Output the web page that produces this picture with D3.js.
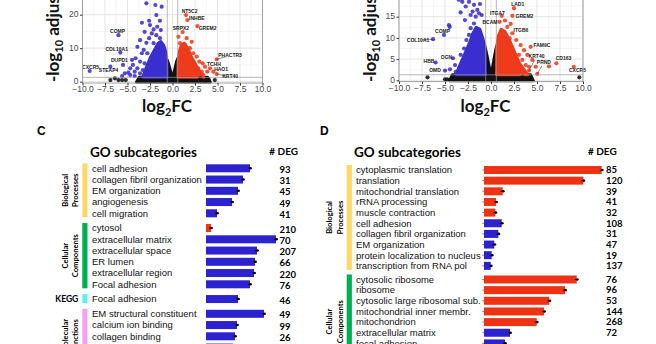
<!DOCTYPE html>
<html>
<head>
<meta charset="utf-8">
<script src="https://cdn.jsdelivr.net/npm/d3@7"></script>
<style>
  body { margin: 0; background: #fff; }
  svg { display: block; }
</style>
</head>
<body>
<svg id="fig" width="656" height="344"></svg>
<script>
// ---------------- Volcano plots: shared ticks and cut-offs ----------------
const log2fcTicks = [-10, -7.5, -5, -2.5, 0, 2.5, 5, 7.5, 10];
const aYTicks = [0, 10, 20];
const bYTicks = [0, 5, 10, 15];
const fcCut = 0.58;     // |log2FC| threshold
const padjCut = 1.3;    // -log10(0.05)

// ---- Volcano A (left): individual genes [log2FC, -log10 padj] ----
const aDown = [[-2.9,23.4],[-1.9,22.9],[-1.2,22.4],[-1.8,19.9],[-3.4,17.6],[-2.6,18.2],[-2.5,16.9],[-1.4,18.2],
  [-1.7,16.4],[-2.1,15.6],[-1.3,15.4],[-3.1,14.9],[-2.3,14.4],[-1.8,13.9],[-2.6,13.0],[-1.4,13.0],[-3.6,12.4],
  [-2.9,11.6],[-2.1,11.5],[-3.9,10.4],[-3.2,9.5],[-3.4,8.5],[-2.8,8.5],[-4.1,7.0],[-3.6,6.0],[-3.1,5.5],[-4.4,5.0],
  [-3.9,4.0],[-3.3,3.5],[-4.2,3.0],[-3.6,2.5],[-4.7,2.0],[-4.2,1.7],[-6.0,13.9],[-5.8,8.7],[-4.5,6.5],[-5.5,5.0],
  [-9.2,3.2],[-6.9,4.5],[-4.7,4.0],[-4.9,2.7],[-5.3,2.5],[-5.6,1.7]];
const aUp = [[1.5,19.9],[1.65,18.4],[1.13,14.8],[2.76,16.6],[0.83,11.5],[1.39,11.0],[1.02,9.5],[1.94,10.0],
  [2.31,8.5],[1.76,8.0],[2.69,7.5],[2.98,6.0],[4.91,6.7],[3.35,5.5],[3.61,4.5],[4.17,4.0],[4.54,3.0],[3.87,3.0],
  [4.91,2.3],[3.24,3.0],[3.43,2.0],[2.87,4.0],[2.5,5.0],[1.57,13.0],[2.13,11.9],[0.65,13.4]];
const aNs = [[-6.9,0.5],[-6.4,1.0],[-6.0,0.5],[-5.6,0.5],[-5.2,0.5],[4.0,0.7],[4.7,0.5],[3.1,1.0]];
// dense regions (outlines of the crowded point clouds)
const aDownCloud = [[-3.3,1.3],[-3.1,3],[-2.8,5],[-2.5,7],[-2.2,8.5],[-1.9,10],[-1.6,11.5],[-1.3,12],[-1.0,11],
  [-0.75,9],[-0.62,6],[-0.6,1.3]];
const aUpCloud = [[0.6,1.3],[0.62,6],[0.75,9],[1.0,11],[1.3,11.5],[1.7,10],[2.0,8],[2.4,6],[2.8,4],[3.2,2.5],[3.5,1.3]];
const aNsCloud = [[-4.0,-0.1],[-3.7,1.3],[-0.6,1.3],[-0.6,6.5],[-0.45,5.5],[-0.15,2.5],[0,1.4],[0.15,2.5],[0.45,6],
  [0.6,7],[0.6,1.3],[3.9,1.3],[4.2,-0.1]];
const aGenes = [
  {gene:"COMP", x:-6.0, y:13.9, lx:-6.1, ly:15.2},
  {gene:"COL10A1", x:-5.8, y:8.7, lx:-6.2, ly:9.8},
  {gene:"DUPD1", x:-4.5, y:6.5, lx:-5.9, ly:6.5},
  {gene:"CXCR5", x:-9.2, y:3.2, lx:-9.1, ly:4.4},
  {gene:"STEAP4", x:-6.9, y:4.5, lx:-7.1, ly:3.3},
  {gene:"NT5C2", x:1.5, y:19.9, lx:1.9, ly:21.1},
  {gene:"INHBE", x:1.65, y:18.4, lx:2.7, ly:18.9},
  {gene:"SRPX2", x:1.13, y:14.8, lx:0.94, ly:16.1},
  {gene:"GREM2", x:2.76, y:16.6, lx:3.9, ly:16.1},
  {gene:"PHACTR3", x:4.91, y:6.7, lx:6.4, ly:7.8},
  {gene:"TCHH", x:3.35, y:5.5, lx:4.6, ly:5.25},
  {gene:"HAO1", x:4.17, y:4.0, lx:5.4, ly:3.6},
  {gene:"KRT40", x:4.91, y:2.3, lx:6.4, ly:1.5}
];

// ---- Volcano B (right) ----
const bDown = [[-6.3,9.7],[-5.11,10.7],[-4.49,12.6],[-6.01,4.2],[-4.13,5.2],[-5.0,2.3],[-4.46,2.6],[-3.91,3.6],
  [-3.48,2.8],[-3.84,2.0],[-3.12,4.4],[-3.3,6.0],[-2.93,7.5],[-2.68,9.5],[-2.39,10.7],[-2.21,12.3],[-2.83,14.2],
  [-1.85,13.4],[-1.66,15.0],[-1.3,15.8],[-3.12,18.5],[-2.39,18.5],[-1.85,17.8],[-2.75,17.4],[-1.49,16.6],
  [-2.21,15.4],[-1.01,15.4],[-4.57,13.0],[-3.5,19.0],[-3.3,16.0],[-2.0,16.2],[-1.2,18.0]];
const bUp = [[2.5,17.0],[1.16,15.2],[2.32,15.2],[0.94,13.8],[1.52,14.1],[2.14,13.3],[1.77,12.6],[1.41,11.5],
  [2.32,11.1],[2.03,9.9],[2.75,9.5],[3.22,8.3],[4.31,7.9],[3.59,7.1],[3.95,6.0],[3.04,6.0],[4.49,4.8],[3.4,4.8],
  [3.77,3.6],[4.13,3.2],[4.86,3.2],[6.3,3.3],[7.1,4.0],[9.0,3.2],[5.03,1.5],[4.13,2.3]];
const bNs = [[-6.9,0.7],[-5.0,0.24],[-4.75,0.24],[3.4,0.7],[9.6,0.7]];
const bDownCloud = [[-3.8,1.3],[-3.5,3],[-3.1,5],[-2.7,7],[-2.3,9],[-2.0,11],[-1.6,12.5],[-1.2,12],[-0.9,10],
  [-0.65,8],[-0.6,1.3]];
const bUpCloud = [[0.6,1.3],[0.62,8],[0.8,10.5],[1.1,12],[1.5,11.5],[1.9,10],[2.3,8],[2.7,6],[3.1,4],[3.6,2.5],[4.0,1.3]];
const bNsCloud = [[-4.5,-0.1],[-4.2,1.3],[-0.6,1.3],[-0.6,7.5],[-0.45,6],[-0.15,2.8],[0,1.5],[0.15,2.8],[0.45,6.5],
  [0.6,8],[0.6,1.3],[4.3,1.3],[4.6,-0.1]];
const bGenes = [
  {gene:"LAD1", x:2.5, y:17.0, lx:2.9, ly:18.0},
  {gene:"ITGA7", x:1.16, y:15.2, lx:0.7, ly:15.9},
  {gene:"GREM2", x:2.32, y:15.2, lx:3.64, ly:15.0},
  {gene:"BCAM", x:0.94, y:13.8, lx:-0.11, ly:13.6},
  {gene:"ITGB6", x:2.14, y:13.3, lx:3.26, ly:11.9},
  {gene:"COMP", x:-5.11, y:10.7, lx:-5.27, ly:11.5},
  {gene:"COL10A1", x:-6.3, y:9.7, lx:-7.93, ly:9.5},
  {gene:"FAM9C", x:4.31, y:7.9, lx:5.54, ly:8.16},
  {gene:"OGN", x:-4.13, y:5.2, lx:-4.84, ly:5.42},
  {gene:"HBB", x:-6.01, y:4.2, lx:-6.74, ly:4.39},
  {gene:"KRT40", x:4.13, y:2.3, lx:4.95, ly:5.6},
  {gene:"PRND", x:5.03, y:1.5, lx:5.75, ly:4.25},
  {gene:"CD163", x:7.1, y:4.0, lx:7.88, ly:5.19},
  {gene:"OMD", x:-5.0, y:2.3, lx:-6.09, ly:2.43},
  {gene:"CXCR5", x:9.0, y:3.2, lx:9.4, ly:2.43}
];

// ---------------- GO enrichment bars ----------------
const goCTerms = ["cell adhesion","collagen fibril organization","EM organization","angiogenesis","cell migration",
  "cytosol","extracellular matrix","extracellular space","ER lumen","extracellular region","Focal adhesion",
  "Focal adhesion","EM structural constituent","calcium ion binding","collagen binding","EM signaling receptor binding"];
const goCEnrich = [4.4,3.7,3.2,2.6,1.1,0.5,7.0,5.1,4.9,4.8,4.4,3.2,5.8,3.1,2.9,2.7];
const goCDeg = [93,31,45,49,41,210,70,207,66,220,76,46,49,99,26,null];
const goCDir = ["down","down","down","down","down","up","down","down","down","down","down","down","down","down","down","down"];
const goCGroup = [0,0,0,0,0,1,1,1,1,1,1,2,3,3,3,3];
const goCGroups = [
  {lines:["Biological","Processes"], first:0, last:4, key:"bp"},
  {lines:["Cellular","Components"], first:5, last:10, key:"cc"},
  {lines:["KEGG"], first:11, last:11, key:"kegg"},
  {lines:["Molecular","Functions"], first:12, last:16, key:"mf"}
];

const goDTerms = ["cytoplasmic translation","translation","mitochondrial translation","rRNA processing",
  "muscle contraction","cell adhesion","collagen fibril organization","EM organization",
  "protein localization to nucleus","transcription from RNA pol","cytosolic ribosome","ribosome",
  "cytosolic large ribosomal sub.","mitochondrial inner membr.","mitochondrion","extracellular matrix","focal adhesion"];
const goDEnrich = [11.77,9.93,1.87,1.2,1.13,1.77,1.43,1.03,0.77,0.67,9.27,8.1,6.53,6.0,5.27,2.6,2.1];
const goDDeg = [85,120,39,41,32,108,31,47,19,137,76,96,53,144,268,72,null];
const goDDir = ["up","up","up","up","up","down","down","down","down","down","up","up","up","up","up","down","down"];
const goDGroup = [0,0,0,0,0,0,0,0,0,0,1,1,1,1,1,1,1];
const goDGroups = [
  {lines:["Biological","Processes"], first:0, last:9, key:"bp"},
  {lines:["Cellular","Components"], first:10, last:18, key:"cc"}
];

// ---------------- styles ----------------
const COL = { down:"#3b2ecf", up:"#ef3b1c", ns:"#111111" };
const BAR = { down:"#2c22cf", up:"#ee3314" };
const GROUPCOL = { bp:"#ffd966", cc:"#00b050", kegg:"#62eef2", mf:"#f5a3f1" };
const SANS = "Liberation Sans, Arial, sans-serif";
const CAL = "Lato, 'Open Sans', sans-serif";

const svg = d3.select("#fig");

// ================= volcano drawing =================
function drawVolcano(cfg) {
  const x = d3.scaleLinear().domain([-10, 10]).range(cfg.xr);
  const y = d3.scaleLinear().domain([0, cfg.yTop]).range(cfg.yr);
  const g = svg.append("g");
  const x0 = x(-10), x1 = x(10), yb = y(cfg.yMin), yt = -4;

  // grid
  const minorX = d3.range(-8.75, 10, 2.5);
  const minorY = cfg.yTicks.map(v => v + (cfg.yTicks[1] - cfg.yTicks[0]) / 2);
  g.selectAll(".mgx").data(minorX).join("line")
    .attr("x1", d => x(d)).attr("x2", d => x(d)).attr("y1", yt).attr("y2", yb)
    .attr("stroke", "#f0f0f0").attr("stroke-width", 0.6);
  g.selectAll(".mgy").data(minorY).join("line")
    .attr("x1", x0).attr("x2", x1).attr("y1", d => y(d)).attr("y2", d => y(d))
    .attr("stroke", "#f0f0f0").attr("stroke-width", 0.6);
  g.selectAll(".gx").data(log2fcTicks).join("line")
    .attr("x1", d => x(d)).attr("x2", d => x(d)).attr("y1", yt).attr("y2", yb)
    .attr("stroke", "#e2e2e2").attr("stroke-width", 0.9);
  g.selectAll(".gy").data(cfg.yTicks).join("line")
    .attr("x1", x0).attr("x2", x1).attr("y1", d => y(d)).attr("y2", d => y(d))
    .attr("stroke", "#e2e2e2").attr("stroke-width", 0.9);

  // point clouds
  const area = d3.line().x(d => x(d[0])).y(d => y(d[1])).curve(d3.curveLinearClosed);
  [[cfg.nsCloud, COL.ns], [cfg.downCloud, COL.down], [cfg.upCloud, COL.up]].forEach(([pts, c]) => {
    g.append("path").attr("d", area(pts)).attr("fill", c).attr("stroke", c)
      .attr("stroke-width", 3).attr("stroke-linejoin", "round");
  });
  // individual points
  [[cfg.ns, COL.ns], [cfg.down, COL.down], [cfg.up, COL.up]].forEach(([pts, c]) => {
    g.append("g").selectAll("circle").data(pts).join("circle")
      .attr("cx", d => x(d[0])).attr("cy", d => y(d[1])).attr("r", 2.1)
      .attr("fill", c).attr("fill-opacity", 0.88);
  });

  // thresholds
  [-fcCut, fcCut].forEach(v => g.append("line").attr("x1", x(v)).attr("x2", x(v))
    .attr("y1", yt).attr("y2", yb).attr("stroke", "#9a9a9a").attr("stroke-width", 0.7));
  g.append("line").attr("x1", x0).attr("x2", x1).attr("y1", y(padjCut)).attr("y2", y(padjCut))
    .attr("stroke", "#9a9a9a").attr("stroke-width", 0.7);

  // gene labels with leader segments when far from the point
  cfg.genes.forEach(d => {
    const px = x(d.x), py = y(d.y), lx = x(d.lx), ly = y(d.ly);
    const dist = Math.hypot(lx - px, ly - py);
    if (dist > 13) {
      const t = (dist - 4) / dist;
      g.append("line").attr("x1", px).attr("y1", py)
        .attr("x2", px + (lx - px) * t).attr("y2", py + (ly - py) * t)
        .attr("stroke", "#222").attr("stroke-width", 0.5);
    }
    g.append("text").attr("x", lx).attr("y", ly).attr("dy", "0.35em")
      .attr("text-anchor", "middle").attr("font-family", SANS).attr("font-weight", "bold")
      .attr("font-size", 5).attr("fill", "#1a1a1a").text(d.gene);
  });

  // panel border
  g.append("rect").attr("x", x0).attr("y", yt).attr("width", x1 - x0).attr("height", yb - yt)
    .attr("fill", "none").attr("stroke", "#a0a0a0").attr("stroke-width", 1);

  // axes
  const ax = g.append("g").attr("transform", `translate(0,${yb})`)
    .call(d3.axisBottom(x).tickValues(log2fcTicks).tickSize(2.5).tickPadding(0.6)
      .tickFormat(d => d3.format(".1f")(d).replace("-", "\u2212")));
  const ay = g.append("g").attr("transform", `translate(${x0},0)`)
    .call(d3.axisLeft(y).tickValues(cfg.yTicks).tickSize(2.5).tickPadding(1.5).tickFormat(d3.format("d")));
  [ax, ay].forEach(a => {
    a.select(".domain").remove();
    a.selectAll("line").attr("stroke", "#333");
    a.selectAll("text").attr("font-family", SANS).attr("font-size", 8.5).attr("fill", "#4a4a4a");
  });
  ay.selectAll("text").attr("dy", "0.25em");

  // titles
  const xt = g.append("text").attr("x", (x0 + x1) / 2 - 5.5).attr("y", 112).attr("text-anchor", "middle")
    .attr("font-family", CAL).attr("font-weight", "bold").attr("font-size", 17).attr("fill", "#111");
  xt.append("tspan").text("log");
  xt.append("tspan").attr("font-size", 11).attr("dy", 4).text("2");
  xt.append("tspan").attr("dy", -4).text("FC");

  const yt2 = g.append("text").attr("transform", `translate(${cfg.ytX},${cfg.ytY}) rotate(-90)`)
    .attr("text-anchor", "start").attr("font-family", CAL).attr("font-weight", "bold")
    .attr("font-size", 17).attr("fill", "#111");
  yt2.append("tspan").text("-log");
  yt2.append("tspan").attr("font-size", 11).attr("dy", 4).text("10");
  yt2.append("tspan").attr("dy", -4).text(" adjusted p-value");
}

drawVolcano({ xr:[82.5, 262.5], yr:[81.7, 14.7], yTop:20, yMin:-0.4, yTicks:aYTicks,
  down:aDown, up:aUp, ns:aNs, downCloud:aDownCloud, upCloud:aUpCloud, nsCloud:aNsCloud, genes:aGenes,
  ytX:59, ytY:82 });
drawVolcano({ xr:[399, 583], yr:[80.3, 16.7], yTop:15, yMin:-0.3, yTicks:bYTicks,
  down:bDown, up:bUp, ns:bNs, downCloud:bDownCloud, upCloud:bUpCloud, nsCloud:bNsCloud, genes:bGenes,
  ytX:376, ytY:82 });

// ================= GO bar panels =================
function drawGO(cfg) {
  const g = svg.append("g");
  const x = d3.scaleLinear().domain([0, cfg.xMax]).range([cfg.barX, cfg.barX + cfg.xMax * 10]);
  const rowY = i => cfg.top + i * cfg.step + cfg.group[i] * cfg.gap;
  const rowYExt = (i, gi) => cfg.top + i * cfg.step + gi * cfg.gap;

  g.append("text").attr("x", cfg.letterX).attr("y", 135).attr("font-family", SANS)
    .attr("font-weight", "bold").attr("font-size", 12).attr("fill", "#000").text(cfg.letter);
  g.append("text").attr("x", cfg.textX - 2).attr("y", 157).attr("font-family", CAL)
    .attr("font-weight", "bold").attr("font-size", 13.5).attr("fill", "#000").text("GO subcategories");
  g.append("text").attr("x", cfg.degTitleX).attr("y", 155).attr("font-family", CAL)
    .attr("font-weight", "bold").attr("font-size", 10).attr("fill", "#000").text("# DEG");

  // group side bars and labels
  cfg.groups.forEach((grp, gi) => {
    const y0 = rowYExt(grp.first, gi) - 5, y1 = rowYExt(grp.last, gi) + 4;
    g.append("rect").attr("x", cfg.sideX).attr("y", y0).attr("width", 5.2).attr("height", y1 - y0)
      .attr("fill", GROUPCOL[grp.key]);
    const mid = (y0 + y1) / 2;
    if (grp.lines.length === 1) {
      g.append("text").attr("x", cfg.sideX - 4).attr("y", mid).attr("dy", "0.35em")
        .attr("text-anchor", "end").attr("font-family", CAL).attr("font-weight", "bold")
        .attr("font-size", 8.5).attr("fill", "#000").text(grp.lines[0]);
    } else {
      grp.lines.forEach((ln, k) => {
        const cx = cfg.sideX - 17 + k * 10.5;
        g.append("text").attr("transform", `translate(${cx},${mid}) rotate(-90)`).attr("dy", "0.35em")
          .attr("text-anchor", "middle").attr("font-family", CAL).attr("font-weight", "bold")
          .attr("font-size", 7.6).attr("fill", "#000").text(ln);
      });
    }
  });

  // rows
  cfg.terms.forEach((t, i) => {
    const cy = rowY(i);
    g.append("text").attr("x", cfg.textX).attr("y", cy).attr("dy", "0.35em")
      .attr("font-family", SANS).attr("font-size", 9.5).attr("fill", "#111").text(t);
    const v = cfg.values[i];
    g.append("rect").attr("x", x(0)).attr("y", cy - 4).attr("width", x(v) - x(0)).attr("height", 8)
      .attr("fill", BAR[cfg.dir[i]]);
    g.append("line").attr("x1", x(v) - 2).attr("x2", x(v) + 2).attr("y1", cy).attr("y2", cy)
      .attr("stroke", "#000").attr("stroke-width", 0.8);
    g.append("circle").attr("cx", x(v) + 0.5).attr("cy", cy).attr("r", 1.3).attr("fill", "#000");
    if (cfg.stub) {
      g.append("line").attr("x1", x(0) - 1.8).attr("x2", x(0)).attr("y1", cy).attr("y2", cy)
        .attr("stroke", "#555").attr("stroke-width", 0.7);
    }
    if (cfg.deg[i] != null) {
      g.append("text").attr("x", cfg.degX).attr("y", cy + cfg.degDy).attr("dy", "0.35em")
        .attr("font-family", CAL).attr("font-weight", "bold").attr("font-size", 9.5)
        .attr("fill", "#000").text(cfg.deg[i]);
    }
  });
}

drawGO({ letter:"C", letterX:37, textX:92, barX:206, xMax:10, sideX:82.3, degX:279.5, degDy:1.2,
  degTitleX:269.3, top:168.3, step:11.25, gap:3.5, terms:goCTerms, values:goCEnrich, deg:goCDeg,
  dir:goCDir, group:goCGroup, groups:goCGroups, stub:false });
drawGO({ letter:"D", letterX:320, textX:356, barX:484, xMax:12, sideX:346.7, degX:606, degDy:0,
  degTitleX:588, top:170, step:10.65, gap:3, terms:goDTerms, values:goDEnrich, deg:goDDeg,
  dir:goDDir, group:goDGroup, groups:goDGroups, stub:true });
</script>
</body>
</html>
